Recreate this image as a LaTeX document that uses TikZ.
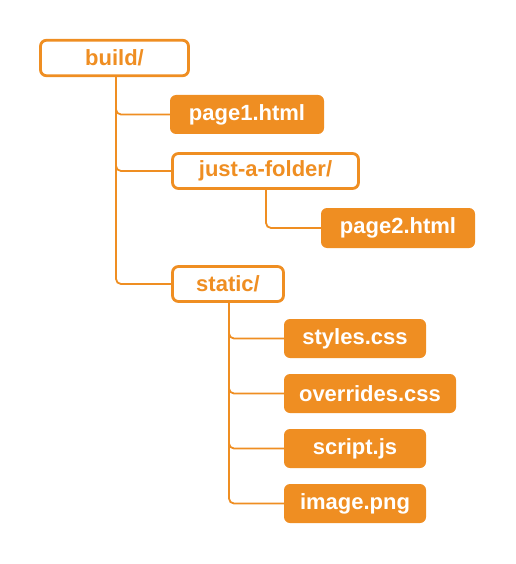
\documentclass[tikz,border=0pt]{standalone}
\usepackage{fontspec}
\setmainfont{Liberation Sans}
\definecolor{org}{HTML}{EF8E22}
\begin{document}
\begin{tikzpicture}[x=1pt,y=-1pt,
  dirbox/.style={draw=org,line width=2.8pt,fill=white,rounded corners=6pt,text=org,
    font=\bfseries\fontsize{22}{26}\selectfont,inner sep=0pt,outer sep=0pt},
  filebox/.style={fill=org,rounded corners=6pt,text=white,
    font=\bfseries\fontsize{22}{26}\selectfont,inner sep=0pt,outer sep=0pt},
  conn/.style={draw=org,line width=1.8pt,rounded corners=5pt}]
\useasboundingbox (0,0) rectangle (515,564);
\coordinate (b0) at (116,77);
\coordinate (s0) at (229,303);
\coordinate (j0) at (266,190);
\node[filebox,minimum width=154pt,minimum height=39pt] (page1) at (247,114.5) {page1.html};
\node[dirbox,minimum width=186pt,minimum height=35pt] (jaf) at (265.5,171) {just-a-folder/};
\node[filebox,minimum width=154pt,minimum height=40pt] (page2) at (398,228) {page2.html};
\node[dirbox,minimum width=111pt,minimum height=35pt] (static) at (228,284) {static/};
\node[filebox,minimum width=142pt,minimum height=39pt] (styles) at (355,338.5) {styles.css};
\node[filebox,minimum width=172pt,minimum height=39pt] (over) at (370,393.5) {overrides.css};
\node[filebox,minimum width=142pt,minimum height=39pt] (script) at (355,448.5) {script.js};
\node[filebox,minimum width=142pt,minimum height=39pt] (image) at (355,503.5) {image.png};
\node[dirbox,minimum width=148pt,minimum height=35.5pt] (build) at (114.5,58) {build/};
\draw[conn] (build.south -| b0) |- (page1.west);
\draw[conn] (build.south -| b0) |- (jaf.west);
\draw[conn] (build.south -| b0) |- (static.west);
\draw[conn] (jaf.south -| j0) |- (page2.west);
\draw[conn] (static.south -| s0) |- (styles.west);
\draw[conn] (static.south -| s0) |- (over.west);
\draw[conn] (static.south -| s0) |- (script.west);
\draw[conn] (static.south -| s0) |- (image.west);
\end{tikzpicture}
\end{document}
